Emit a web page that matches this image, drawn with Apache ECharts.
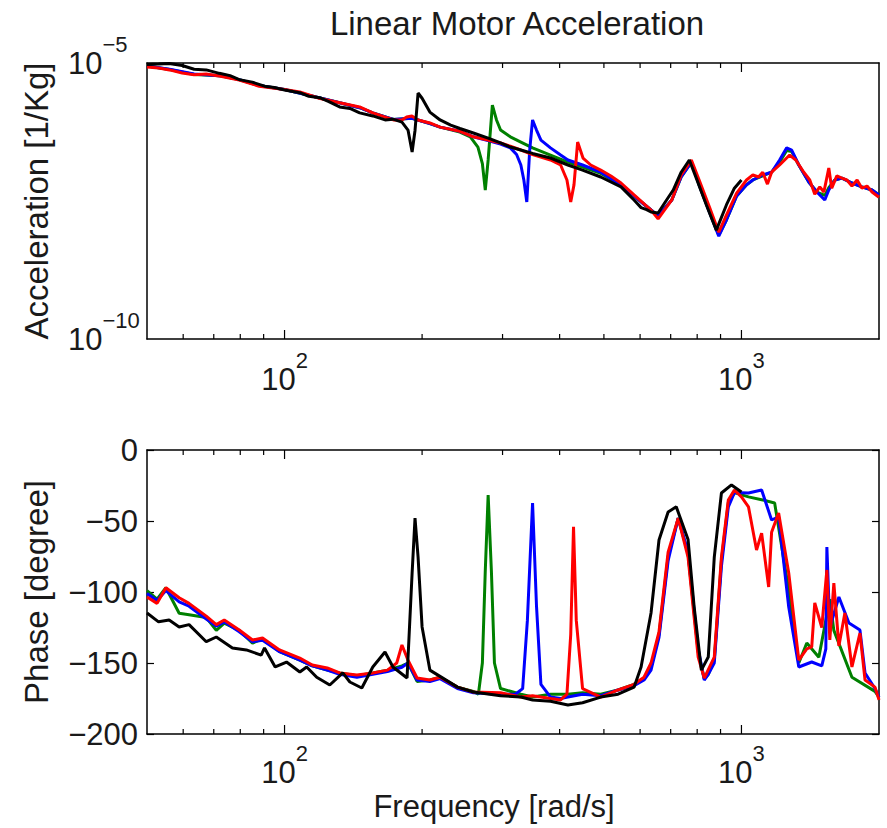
<!DOCTYPE html>
<html>
<head>
<meta charset="utf-8">
<script src="https://cdn.jsdelivr.net/npm/echarts@6/dist/echarts.min.js"></script>
<style>
html,body{margin:0;padding:0;background:#fff}
#chart{width:887px;height:828px}
</style>
</head>
<body>
<div id="chart"></div>
<script>
// ---------------- data ----------------
const chartTitle = 'Linear Motor Acceleration';
const freqRange = [50, 2000];
const magRange = [1e-10, 1e-5];
const magLabelValues = [1e-10, 1e-5];
const phaseRange = [-200, 0];
const phaseStep = 50;
const xMajorTicks = [100, 1000];
const xMinorTicks = [60, 70, 80, 90, 200, 300, 400, 500, 600, 700, 800, 900];
const seriesColors = { green: '#008000', blue: '#0000ff', red: '#ff0000', black: '#000000' };

// magnitude [frequency rad/s, acceleration 1/Kg]
const magGreen = [[50,8.8e-6],[56,7.6e-6],[63.4,6.2e-6],[72,5.9e-6],[79.6,5.0e-6],[88,3.9e-6],[100,3.3e-6],[119,2.35e-6],[132,1.9e-6],[146,1.55e-6],[156,1.25e-6],[173,9.5e-7],[190,1.0e-6],[208,8.0e-7],[219,6.9e-7],[242,5.6e-7],[255,4.6e-7],[265,3.0e-7],[271,1.5e-7],[275,5.0e-8],[279,1.75e-7],[285,1.73e-6],[291,9.3e-7],[297,6.1e-7],[312,4.6e-7],[329,3.7e-7],[349,2.9e-7],[382,2.15e-7],[417,1.6e-7],[449,1.3e-7],[492,1.0e-7],[545,6.2e-8],[582,3.9e-8],[634,2.17e-8],[657,1.7e-8],[704,3.3e-8],[738,8.6e-8],[777,1.6e-7],[808,6.2e-8],[851,2.0e-8],[892,7.6e-9],[927,1.43e-8],[976,3.9e-8],[1026,6.2e-8],[1059,7.6e-8],[1113,9.0e-8],[1164,1.05e-7],[1212,1.6e-7],[1256,2.6e-7],[1288,2.5e-7],[1335,1.42e-7],[1404,7e-8],[1462,4.6e-8],[1522,4.0e-8],[1553,5.5e-8],[1601,7.6e-8],[1659,8.2e-8],[1745,6.7e-8],[1835,5.7e-8],[1931,5.0e-8],[2000,4.07e-8]];
const magBlue = [[50,8.8e-6],[56,7.7e-6],[63.4,6.3e-6],[72,5.9e-6],[79.6,5.0e-6],[88,3.9e-6],[100,3.3e-6],[119,2.35e-6],[132,1.9e-6],[146,1.55e-6],[156,1.25e-6],[173,9.5e-7],[190,1.0e-6],[208,8.0e-7],[219,6.9e-7],[242,5.8e-7],[259,4.6e-7],[280,3.9e-7],[297,3.4e-7],[312,2.9e-7],[322,2.2e-7],[329,1.42e-7],[334,7.6e-8],[339,3.03e-8],[344,2.65e-7],[349,9.3e-7],[356,6.1e-7],[364,4.0e-7],[382,2.9e-7],[402,2.15e-7],[417,1.75e-7],[449,1.42e-7],[492,1.05e-7],[545,6.2e-8],[582,3.9e-8],[634,2.17e-8],[657,1.7e-8],[704,3.3e-8],[738,8.6e-8],[777,1.6e-7],[808,6.2e-8],[851,2.0e-8],[892,7.3e-9],[927,1.43e-8],[976,3.9e-8],[1026,6.2e-8],[1059,7.6e-8],[1113,9.35e-8],[1164,1.05e-7],[1212,1.75e-7],[1256,2.9e-7],[1288,2.65e-7],[1335,1.42e-7],[1404,7e-8],[1462,4.6e-8],[1522,3.3e-8],[1553,5.0e-8],[1601,7.6e-8],[1659,8.2e-8],[1745,6.7e-8],[1835,5.7e-8],[1931,5.0e-8],[2000,4.07e-8]];
const magRed = [[50,8.5e-6],[53,8.1e-6],[56,7.5e-6],[59.7,6.6e-6],[63.4,6.1e-6],[67.4,6.3e-6],[72,5.8e-6],[79.6,4.9e-6],[88,3.8e-6],[100,3.3e-6],[108,3.0e-6],[119,2.3e-6],[132,1.9e-6],[146,1.6e-6],[156,1.25e-6],[173,9.3e-7],[180.7,9.3e-7],[185,1.05e-6],[190,1.1e-6],[196,9.3e-7],[208,8.2e-7],[219,6.9e-7],[242,5.8e-7],[259,4.6e-7],[280,4.0e-7],[297,3.56e-7],[312,3.1e-7],[329,2.65e-7],[349,2.2e-7],[382,1.75e-7],[402,1.42e-7],[415,7.6e-8],[423,3.03e-8],[430,6.2e-8],[438,3.7e-7],[450,1.9e-7],[468,1.42e-7],[492,1.15e-7],[518,9.0e-8],[545,6.7e-8],[582,4.07e-8],[634,2.17e-8],[657,1.5e-8],[704,3.3e-8],[738,9.35e-8],[777,1.75e-7],[808,7.6e-8],[851,2.46e-8],[892,8.6e-9],[927,1.76e-8],[976,4.4e-8],[1026,7.6e-8],[1059,9.4e-8],[1090,8.6e-8],[1113,1.05e-7],[1140,6.4e-8],[1164,1.05e-7],[1212,1.42e-7],[1275,2.15e-7],[1315,1.75e-7],[1369,1.05e-7],[1411,7.6e-8],[1447,4.2e-8],[1484,5.7e-8],[1515,4.6e-8],[1553,1.25e-7],[1576,5.4e-8],[1617,9e-8],[1659,8.2e-8],[1701,7.6e-8],[1745,5.9e-8],[1791,7.6e-8],[1835,5.4e-8],[1883,5.9e-8],[1931,4.6e-8],[2000,3.7e-8]];
const magBlack = [[50,9.4e-6],[53,9.6e-6],[55.9,9.8e-6],[59.7,9.0e-6],[63.4,7.7e-6],[67.4,7.5e-6],[72,6.5e-6],[76,5.9e-6],[79.6,5.0e-6],[85,4.5e-6],[90.4,3.8e-6],[95,3.6e-6],[100,3.24e-6],[108,2.9e-6],[113,2.5e-6],[119.4,2.35e-6],[125,2.0e-6],[132,1.6e-6],[139,1.5e-6],[146,1.25e-6],[156,1.1e-6],[166,9.3e-7],[172.7,9.6e-7],[180.7,8.5e-7],[186.3,6.1e-7],[190.2,2.44e-7],[193,6.0e-7],[196,2.86e-6],[200,2.3e-6],[208,1.29e-6],[219,9.3e-7],[231,7.5e-7],[242,6.5e-7],[259,5.4e-7],[280,4.3e-7],[297,3.56e-7],[312,3.0e-7],[329,2.65e-7],[349,2.3e-7],[382,1.9e-7],[417,1.42e-7],[449,1.15e-7],[492,8.6e-8],[545,5.7e-8],[582,3.3e-8],[603,2.4e-8],[620,2.2e-8],[634,2.0e-8],[657,1.92e-8],[684,3.2e-8],[709,5.0e-8],[738,1.05e-7],[769,1.75e-7],[796,8.3e-8],[838,2.68e-8],[881,9.4e-9],[927,2.68e-8],[965,5.4e-8],[1000,7.6e-8]];

// phase [frequency rad/s, phase degree]
const phGreen = [[50,-99],[52.6,-105],[55,-97],[58.8,-115],[61.8,-116],[67.4,-118],[70.9,-127],[73.8,-122],[79.6,-127],[85.1,-136],[89.5,-133],[97.5,-142],[108,-148],[115,-152],[124,-155],[132,-157],[144,-159],[156,-157],[168,-155],[180.7,-152],[186.3,-150],[195,-163],[208,-162],[219,-160],[239,-167],[259,-170],[265.6,-172],[271,-150],[275,-85],[279,-31.7],[283.6,-85],[288,-150],[297,-168],[329,-172],[349,-174],[382,-172],[417,-172],[449,-171],[492,-172],[537,-169],[582,-165],[612,-161],[634,-153],[660,-130],[691,-75],[727,-48],[764,-73],[804,-142],[829,-161],[846,-158],[872,-148],[904,-78],[936,-37],[965,-30],[1036,-33],[1107,-35],[1182,-37.3],[1269,-98.6],[1335,-150],[1390,-135.9],[1477,-146],[1561,-105],[1593,-127],[1745,-160],[1960,-170],[2000,-174]];
const phBlue = [[50,-101],[52.6,-106],[55,-99],[58.8,-107],[61.8,-110],[67.4,-119],[70.9,-124],[73.8,-121],[79.6,-128],[85.1,-135],[89.5,-134],[97.5,-142],[108,-148],[115,-152],[124,-155],[132,-158],[144,-160],[156,-158],[168,-156],[180.7,-153],[186.3,-150],[195,-162],[208,-163],[219,-161],[239,-168],[259,-171],[297,-172],[320,-172],[332,-168],[340,-120],[349,-37.3],[356,-110],[364,-165],[382,-174],[402,-175],[417,-174],[449,-172],[492,-173],[537,-169],[582,-166],[612,-162],[634,-155],[660,-132],[691,-78],[727,-48],[764,-72],[804,-140],[829,-162],[846,-158],[872,-150],[904,-82],[936,-40],[965,-30],[1036,-30.3],[1107,-28.2],[1164,-49.3],[1206,-47],[1269,-110.6],[1335,-152.8],[1425,-149.3],[1499,-152],[1530,-140],[1538,-68.3],[1561,-125],[1634,-103.5],[1719,-121.8],[1817,-126.8],[1864,-157],[1960,-168],[2000,-174]];
const phRed = [[50,-103.5],[52.6,-108],[55,-97],[58.8,-104],[61.8,-108],[67.4,-117],[70.9,-123],[73.8,-119.7],[79.6,-126.8],[85.1,-133.8],[89.5,-132.4],[97.5,-140.8],[108,-146.5],[115,-151.4],[124,-153.5],[132,-157],[144,-158.5],[156,-157],[168,-155],[176,-150],[180.7,-137.3],[186.3,-148],[195,-160.6],[208,-162],[219,-160],[239,-167],[259,-170.4],[297,-171],[329,-174],[349,-173],[382,-175],[402,-176],[415,-172],[423,-130],[429,-54],[435,-120],[449,-168],[492,-174],[537,-169],[582,-165],[612,-160],[634,-150],[660,-128],[691,-72],[727,-48],[764,-75.4],[804,-145.8],[829,-160.6],[872,-145.8],[904,-75.4],[936,-35.2],[965,-28.2],[1000,-33],[1036,-40],[1079,-70.4],[1107,-58.5],[1147,-96.5],[1164,-58],[1206,-44.4],[1269,-86.6],[1335,-148],[1390,-140],[1425,-138.7],[1447,-107.7],[1499,-125],[1538,-84.5],[1561,-133.8],[1593,-93.7],[1634,-138],[1684,-114.8],[1745,-152.8],[1817,-128.9],[1864,-162],[1960,-167],[2000,-176]];
const phBlack = [[50,-114.8],[53,-121],[55.9,-119.7],[58.8,-124.6],[61.8,-123],[67.4,-135],[70.9,-131.7],[76.9,-139.4],[82.5,-140.8],[88.9,-144.4],[90.4,-139.4],[95.4,-152.8],[101,-149.3],[108,-156.3],[111.8,-152.8],[117.6,-160],[125.6,-165.5],[134.1,-157],[139,-163.4],[147.6,-167.6],[156,-152.8],[165.9,-142.3],[172.7,-152.8],[185.4,-160.6],[190.2,-86.6],[193,-47.9],[196,-75.4],[200,-124.6],[208,-155],[239,-167],[259,-170.4],[297,-173],[329,-174],[349,-176],[382,-177],[417,-179.6],[449,-178],[492,-174],[537,-172],[582,-167],[603,-152.8],[634,-114.8],[660,-63.4],[691,-43.7],[720,-40],[764,-63],[788,-110.6],[817,-155],[846,-145.8],[872,-75.4],[904,-30.3],[951,-24.6],[1000,-29.6]];

// ---------------- chart ----------------
const FONT = "'Liberation Sans', Arial, Helvetica, sans-serif";
const TXT = '#1a1a1a';
const AX = '#000';
const richPow = {
  b: { fontSize: 31, lineHeight: 60, fontFamily: FONT, color: TXT },
  s: { fontSize: 22, height: 22, lineHeight: 22, verticalAlign: 'top', fontFamily: FONT, color: TXT }
};
function powText(v) {
  const e = Math.round(Math.log10(v));
  return '{b|10}{s|' + String(e).replace('-', '\u2212') + '}';
}
function isDecade(v, list) {
  return list.some(t => Math.abs(Math.log10(v) - Math.log10(t)) < 1e-6);
}
const xLabelFmt = (v) => isDecade(v, xMajorTicks) ? powText(v) : '';
const yLabelFmt = (v) => isDecade(v, magLabelValues) ? powText(v) : '';

function xLog(grid, pos, extra) {
  return Object.assign({
    type: 'log', logBase: 10, gridIndex: grid, position: pos,
    min: freqRange[0], max: freqRange[1],
    axisLine: { show: true, onZero: false, lineStyle: { color: AX, width: 1.5 } },
    axisTick: { show: false },
    axisLabel: { show: false },
    splitLine: { show: false }, minorTick: { show: false }, minorSplitLine: { show: false }
  }, extra || {});
}
const xLabel = (margin) => ({ show: true, interval: 0, margin: margin, hideOverlap: false, formatter: xLabelFmt, rich: richPow });

const xAxes = [
  xLog(0, 'bottom', { axisLabel: xLabel(10) }),
  xLog(0, 'top'),
  xLog(1, 'bottom', {
    axisLabel: xLabel(8),
    name: 'Frequency [rad/s]', nameLocation: 'middle', nameGap: 55,
    nameTextStyle: { fontSize: 31, lineHeight: 34, fontFamily: FONT, color: TXT, padding: [0, 38, 0, 0] }
  }),
  xLog(1, 'top')
];

const yAxes = [
  {
    type: 'log', logBase: 10, gridIndex: 0, position: 'left',
    min: magRange[0], max: magRange[1],
    name: 'Acceleration [1/Kg]', nameLocation: 'middle', nameGap: 94, nameRotate: 90,
    nameTextStyle: { fontSize: 33, fontFamily: FONT, color: TXT },
    axisLine: { show: true, onZero: false, lineStyle: { color: AX, width: 1.5 } },
    axisTick: { show: false },
    axisLabel: { show: true, interval: 0, align: 'left', margin: 79, formatter: yLabelFmt, rich: richPow },
    splitLine: { show: false }
  },
  {
    type: 'value', gridIndex: 0, position: 'right', min: 0, max: 1,
    axisLine: { show: true, onZero: false, lineStyle: { color: AX, width: 1.5 } },
    axisTick: { show: false }, axisLabel: { show: false }, splitLine: { show: false }
  },
  {
    type: 'value', gridIndex: 1, position: 'left',
    min: phaseRange[0], max: phaseRange[1], interval: phaseStep,
    name: 'Phase [degree]', nameLocation: 'middle', nameGap: 94, nameRotate: 90,
    nameTextStyle: { fontSize: 33, fontFamily: FONT, color: TXT },
    axisLine: { show: true, onZero: false, lineStyle: { color: AX, width: 1.5 } },
    axisTick: { show: true, inside: true, length: 7, lineStyle: { color: AX, width: 1.2 } },
    axisLabel: { show: true, margin: 9, fontSize: 31, fontFamily: FONT, color: TXT,
      formatter: (v) => String(v).replace('-', '\u2212') },
    splitLine: { show: false }
  },
  {
    type: 'value', gridIndex: 1, position: 'right',
    min: phaseRange[0], max: phaseRange[1], interval: phaseStep,
    axisLine: { show: true, onZero: false, lineStyle: { color: AX, width: 1.5 } },
    axisTick: { show: true, inside: true, length: 7, lineStyle: { color: AX, width: 1.2 } },
    axisLabel: { show: false }, splitLine: { show: false }
  }
];

function line(name, color, data, xi, yi, z) {
  return {
    name: name, type: 'line', xAxisIndex: xi, yAxisIndex: yi, data: data,
    showSymbol: false, symbol: 'none', clip: true, z: z,
    lineStyle: { color: color, width: 3 }, itemStyle: { color: color },
    emphasis: { disabled: true }
  };
}

// x-axis tick marks (inward, bottom and top) placed through the axis scales
const tickData = xMinorTicks.map(f => [f, 5]).concat(xMajorTicks.map(f => [f, 9]));
function tickSeries(xi, yi, yLow, yHigh) {
  return {
    type: 'custom', xAxisIndex: xi, yAxisIndex: yi, data: tickData, clip: false, z: 10,
    silent: true,
    renderItem: function (params, api) {
      const f = api.value(0), len = api.value(1);
      const b = api.coord([f, yLow]);
      const t = api.coord([f, yHigh]);
      const st = { stroke: AX, lineWidth: 1.2 };
      return {
        type: 'group', children: [
          { type: 'line', shape: { x1: b[0], y1: b[1], x2: b[0], y2: b[1] - len }, style: st },
          { type: 'line', shape: { x1: t[0], y1: t[1], x2: t[0], y2: t[1] + len }, style: st }
        ]
      };
    }
  };
}

const chart = echarts.init(document.getElementById('chart'), null, { renderer: 'svg' });
chart.setOption({
  animation: false,
  backgroundColor: '#fff',
  title: {
    text: chartTitle, left: 512, top: 2, textAlign: 'center',
    textStyle: { fontSize: 33, fontWeight: 'normal', fontFamily: FONT, color: TXT }
  },
  grid: [
    { left: 147, top: 63, width: 732, height: 276, outerBoundsMode: 'none' },
    { left: 147, top: 450, width: 732, height: 284, outerBoundsMode: 'none' }
  ],
  xAxis: xAxes,
  yAxis: yAxes,
  series: [
    line('green', seriesColors.green, magGreen, 0, 0, 2),
    line('blue', seriesColors.blue, magBlue, 0, 0, 3),
    line('red', seriesColors.red, magRed, 0, 0, 4),
    line('black', seriesColors.black, magBlack, 0, 0, 5),
    line('green', seriesColors.green, phGreen, 2, 2, 2),
    line('blue', seriesColors.blue, phBlue, 2, 2, 3),
    line('red', seriesColors.red, phRed, 2, 2, 4),
    line('black', seriesColors.black, phBlack, 2, 2, 5),
    tickSeries(0, 0, magRange[0], magRange[1]),
    tickSeries(2, 2, phaseRange[0], phaseRange[1])
  ]
});
</script>
</body>
</html>
